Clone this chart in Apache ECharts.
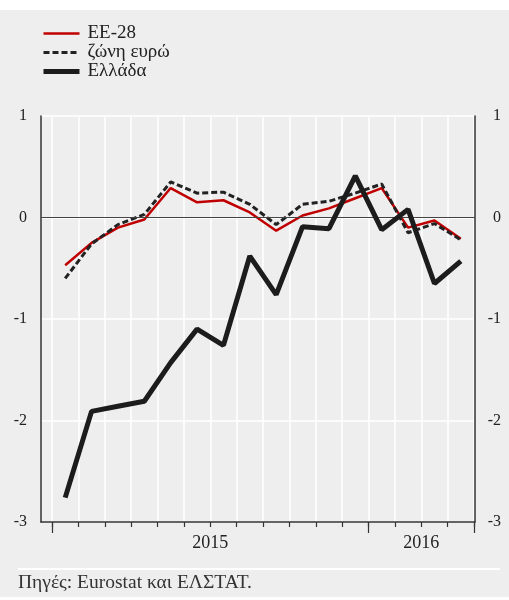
<!DOCTYPE html>
<html>
<head>
<meta charset="utf-8">
<script src="https://cdn.jsdelivr.net/npm/echarts@6/dist/echarts.min.js"></script>
<style>
  html, body { margin: 0; padding: 0; background: #ffffff; }
  #chart { width: 509px; height: 600px; }
</style>
</head>
<body>
<div id="chart"></div>
<script>
// μηνιαίες τιμές, Ιαν 2015 - Απρ 2016
const months = ['2015-01', '2015-02', '2015-03', '2015-04', '2015-05', '2015-06', '2015-07', '2015-08',
  '2015-09', '2015-10', '2015-11', '2015-12', '2016-01', '2016-02', '2016-03', '2016-04'];
const ee28 = [-0.47, -0.25, -0.10, -0.02, 0.29, 0.15, 0.17, 0.05, -0.13, 0.02, 0.09, 0.19, 0.29, -0.10, -0.03, -0.21];
const euroArea = [-0.60, -0.26, -0.07, 0.03, 0.35, 0.24, 0.25, 0.13, -0.07, 0.13, 0.16, 0.24, 0.33, -0.15, -0.06, -0.22];
const greece = [-2.76, -1.91, -1.86, -1.81, -1.43, -1.10, -1.26, -0.38, -0.76, -0.09, -0.11, 0.41, -0.12, 0.08, -0.65, -0.43];
// ετικέτες ετών: θέση στο μέσο του έτους, όρια ετών
const yearLabels = ['2015', '2016'];
const yearMid = [6, 14];
const yearBounds = [0, 12, 16];

const FONT = '"Liberation Serif", "DejaVu Serif", serif';

// κάθε σημείο στο μέσο του μήνα
function toPoints(arr) {
  return arr.map(function(v, i) {
    return [i + 0.5, v];
  });
}

let chart = echarts.init(document.getElementById('chart'));

let option = {
  backgroundColor: '#ffffff',
  animation: false,
  graphic: [{
      type: 'rect',
      z: -10,
      silent: true,
      shape: { x: 0, y: 10, width: 509, height: 587 },
      style: { fill: '#eeeeee' }
    },
    {
      type: 'line',
      silent: true,
      shape: { x1: 18, y1: 569, x2: 500, y2: 569 },
      style: { stroke: '#ffffff', lineWidth: 2 }
    },
    {
      type: 'text',
      silent: true,
      left: 18,
      top: 573,
      style: {
        text: 'Πηγές: Eurostat και ΕΛΣΤΑΤ.',
        font: '19.5px ' + FONT,
        fill: '#333333'
      }
    }
  ],
  legend: {
    orient: 'vertical',
    left: 36,
    top: 19,
    itemWidth: 36,
    itemHeight: 14,
    itemGap: 0,
    itemStyle: { opacity: 0 },
    textStyle: {
      fontFamily: FONT,
      fontSize: 19,
      color: '#222222',
      padding: [0, 0, 0, 3]
    },
    data: [
      { name: 'ΕΕ-28', lineStyle: { width: 2.5 } },
      { name: 'ζώνη ευρώ', lineStyle: { width: 3 } },
      { name: 'Ελλάδα', lineStyle: { width: 5 } }
    ]
  },
  grid: [{
      // πλαίσιο με τους άξονες y
      left: 41,
      right: 34,
      top: 116,
      bottom: 78
    },
    {
      // περιοχή δεδομένων (μήνες)
      left: 52,
      right: 35,
      top: 116,
      bottom: 78
    }
  ],
  xAxis: [{
      gridIndex: 0,
      type: 'value',
      position: 'bottom',
      min: 0,
      max: 1,
      axisLine: { show: true, onZero: false, lineStyle: { color: '#333333', width: 1.5 } },
      axisTick: { show: false },
      axisLabel: { show: false },
      splitLine: { show: false }
    },
    {
      gridIndex: 1,
      type: 'value',
      position: 'bottom',
      min: 0,
      max: 16,
      interval: 1,
      axisLine: { show: false, onZero: false },
      axisTick: {
        show: true,
        length: 5,
        lineStyle: { color: '#333333', width: 1.2 }
      },
      axisLabel: {
        show: true,
        customValues: yearMid,
        formatter: function(v) {
          return yearLabels[yearMid.indexOf(v)];
        },
        margin: 12,
        fontFamily: FONT,
        fontSize: 18,
        color: '#222222'
      },
      splitLine: {
        show: true,
        lineStyle: { color: '#ffffff', width: 1.5 }
      }
    },
    {
      gridIndex: 1,
      type: 'value',
      position: 'bottom',
      min: 0,
      max: 16,
      axisLine: { show: false, onZero: false },
      axisTick: {
        show: true,
        customValues: yearBounds,
        length: 11,
        lineStyle: { color: '#333333', width: 1.2 }
      },
      axisLabel: { show: false },
      splitLine: { show: false }
    }
  ],
  yAxis: [{
      gridIndex: 0,
      type: 'value',
      position: 'left',
      min: -3,
      max: 1,
      interval: 1,
      axisLine: { show: true, onZero: false, lineStyle: { color: '#333333', width: 1.5 } },
      axisTick: { show: false },
      axisLabel: {
        margin: 14,
        fontFamily: FONT,
        fontSize: 16,
        color: '#222222'
      },
      splitLine: {
        show: true,
        lineStyle: { color: '#ffffff', width: 1.5 }
      }
    },
    {
      gridIndex: 0,
      type: 'value',
      position: 'right',
      min: -3,
      max: 1,
      interval: 1,
      axisLine: { show: true, onZero: false, lineStyle: { color: '#333333', width: 1.5 } },
      axisTick: { show: false },
      axisLabel: {
        margin: 26,
        align: 'right',
        fontFamily: FONT,
        fontSize: 16,
        color: '#222222'
      },
      splitLine: { show: false }
    },
    {
      gridIndex: 1,
      type: 'value',
      min: -3,
      max: 1,
      show: false
    }
  ],
  series: [{
      // γραμμή του μηδενός
      name: 'zero',
      type: 'line',
      xAxisIndex: 0,
      yAxisIndex: 0,
      data: [],
      markLine: {
        silent: true,
        symbol: 'none',
        label: { show: false },
        lineStyle: { color: '#444444', width: 1.2, type: 'solid' },
        data: [{ yAxis: 0 }]
      }
    },
    {
      name: 'ΕΕ-28',
      type: 'line',
      xAxisIndex: 1,
      yAxisIndex: 2,
      data: toPoints(ee28),
      symbol: 'none',
      z: 3,
      itemStyle: { color: '#c00000' },
      lineStyle: { color: '#c00000', width: 2.5 }
    },
    {
      name: 'ζώνη ευρώ',
      type: 'line',
      xAxisIndex: 1,
      yAxisIndex: 2,
      data: toPoints(euroArea),
      symbol: 'none',
      z: 4,
      itemStyle: { color: '#222222' },
      lineStyle: { color: '#222222', width: 3, type: [6, 3] }
    },
    {
      name: 'Ελλάδα',
      type: 'line',
      xAxisIndex: 1,
      yAxisIndex: 2,
      data: toPoints(greece),
      symbol: 'none',
      z: 5,
      itemStyle: { color: '#1c1c1c' },
      lineStyle: { color: '#1c1c1c', width: 5 }
    }
  ]
};

if (option && typeof option === 'object') {
  chart.setOption(option);
}
</script>
</body>
</html>
